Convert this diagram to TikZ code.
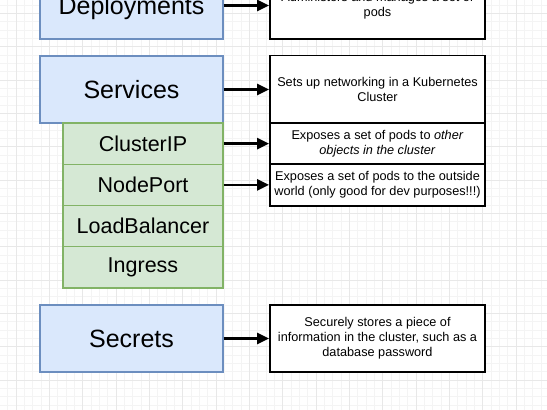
\documentclass[tikz,border=0pt]{standalone}
\usepackage{fontspec}
\setmainfont{Liberation Sans}
\usetikzlibrary{arrows.meta}
\definecolor{objfill}{HTML}{DAE8FC}
\definecolor{objline}{HTML}{6C8EBF}
\definecolor{typefill}{HTML}{D5E8D4}
\definecolor{typeline}{HTML}{82B366}
\definecolor{gridmajor}{HTML}{E8E8E8}
\definecolor{gridminor}{HTML}{F4F4F4}
\begin{document}
\begin{tikzpicture}[x=1pt, y=-1pt,
    obj/.style={draw=objline, fill=objfill, line width=1.4pt, minimum width=183pt, minimum height=67pt, inner sep=0pt, font=\fontsize{25}{30}\selectfont},
    svctype/.style={draw=typeline, fill=typefill, line width=1.4pt, minimum width=160pt, minimum height=41.25pt, inner sep=0pt, font=\fontsize{21.5}{26}\selectfont},
    desc/.style={draw=black, fill=white, line width=1.9pt, minimum width=215pt, inner sep=0pt, align=center, font=\fontsize{12.7}{15}\selectfont},
    link/.style={line width=2.6pt, -{Triangle[length=12pt,width=11pt]}}]
    \useasboundingbox (0,0) rectangle (547,410);
    \fill[white] (0,0) rectangle (547,410);

    % background grid
    \foreach \i in {0,...,66} {
        \draw[gridminor, line width=0.6pt] ({-0.667+8.333*\i},0) -- ++(0,410);
    }
    \foreach \i in {0,...,49} {
        \draw[gridminor, line width=0.6pt] (0,{5+8.333*\i}) -- ++(547,0);
    }
    \foreach \i in {0,...,16} {
        \draw[gridmajor, line width=0.8pt] ({16+33.333*\i},0) -- ++(0,410);
    }
    \foreach \i in {0,...,12} {
        \draw[gridmajor, line width=0.8pt] (0,{13.333+33.333*\i}) -- ++(547,0);
    }

    \node[obj, minimum height=62pt] (deployments) at (131.5,8) {Deployments};
    \node[desc, minimum height=67pt] (deploymentsdesc) at (377.5,5.5) {Administers and manages a set of\\pods};

    \node[obj] (services) at (131.5,89.5) {Services};
    \node[desc, minimum height=67pt] (servicesdesc) at (377.5,89) {Sets up networking in a Kubernetes\\Cluster};

    \node[svctype] (clusterip) at (143,143.6) {ClusterIP};
    \node[svctype] (nodeport) at (143,184.9) {NodePort};
    \node[svctype] (loadbalancer) at (143,226.1) {LoadBalancer};
    \node[svctype] (ingress) at (143,267.4) {Ingress};
    \node[desc, minimum height=41.5pt] (clusteripdesc) at (377.5,143.3) {Exposes a set of pods to \textit{other}\\\textit{objects in the cluster}};
    \node[desc, minimum height=41.5pt] (nodeportdesc) at (377.5,184.8) {Exposes a set of pods to the outside\\world (only good for dev purposes!!!)};

    \node[obj] (secrets) at (131.5,338.5) {Secrets};
    \node[desc, minimum height=67pt] (secretsdesc) at (377.5,338.5) {Securely stores a piece of\\information in the cluster, such as a\\database password};

    \draw[link] (deployments.east |- deploymentsdesc) -- (deploymentsdesc);
    \draw[link] (services) -- (servicesdesc.west |- services);
    \draw[link] (clusterip) -- (clusteripdesc.west |- clusterip);
    \draw[link] (nodeport) -- (nodeportdesc.west |- nodeport);
    \draw[link] (secrets) -- (secretsdesc);
\end{tikzpicture}
\end{document}
